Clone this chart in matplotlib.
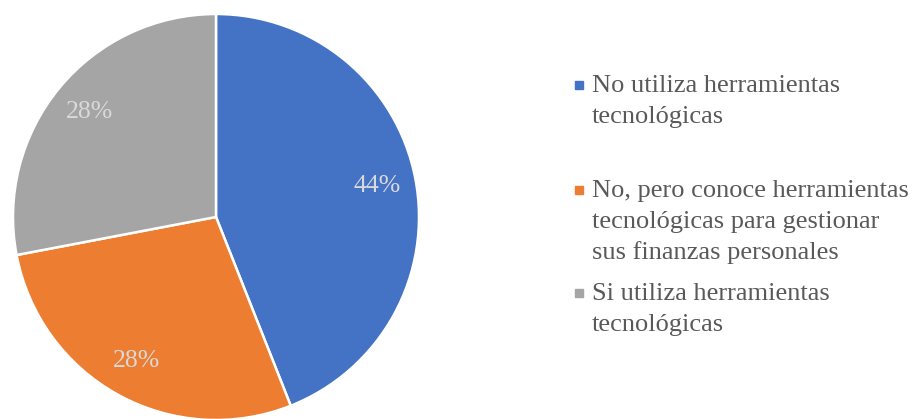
import matplotlib.pyplot as plt
from matplotlib.patches import Rectangle

plt.rcParams['font.family'] = ['Liberation Serif', 'DejaVu Serif']

categorias = ['No utiliza herramientas\ntecnológicas',
              'No, pero conoce herramientas\ntecnológicas para gestionar\nsus finanzas personales',
              'Si utiliza herramientas\ntecnológicas']
porcentajes = [44, 28, 28]
colores = ['#4472C4', '#ED7D31', '#A5A5A5']

W, H = 915, 419
fig = plt.figure(figsize=(W / 100, H / 100), dpi=100)
ax = fig.add_axes([13 / W, -1 / H, 406 / W, 406 / H])
wedges, _, autotexts = ax.pie(porcentajes, colors=colores, startangle=90, counterclock=False,
                              autopct='%1.0f%%', pctdistance=0.81,
                              wedgeprops=dict(edgecolor='white', linewidth=1.8),
                              textprops=dict(color='#D9D9D9', fontsize=18.5))
ax.set_xlim(-1, 1)
ax.set_ylim(-1, 1)
ax.set_aspect('equal')

# leyenda dibujada a mano (espaciado como en Excel)
y_base = [92, 197, 300]
for cat, col, yb in zip(categorias, colores, y_base):
    fig.patches.append(Rectangle((575 / W, 1 - (yb - 3) / H), 8 / W, 8 / H,
                                 transform=fig.transFigure, color=col))
    for i, linea in enumerate(cat.split('\n')):
        fig.text(592 / W, 1 - (yb + i * 31) / H, linea, fontsize=19,
                 color='#595959', va='baseline', ha='left')

fig.savefig('out.png', dpi=100)
